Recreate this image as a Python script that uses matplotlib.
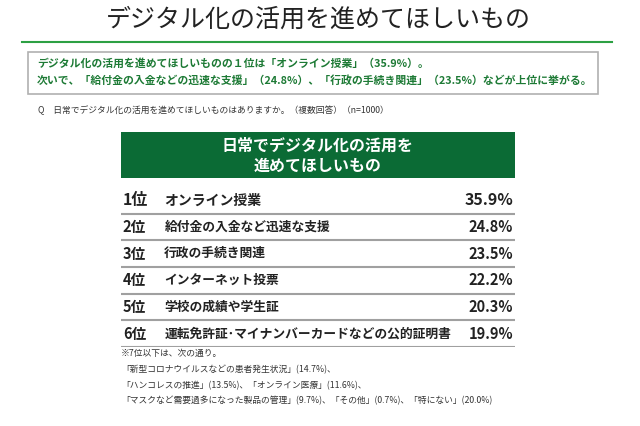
import matplotlib
matplotlib.use("Agg")
import matplotlib.pyplot as plt
from matplotlib.patches import Rectangle

plt.rcParams['font.family'] = ['Noto Sans CJK JP', 'DejaVu Sans']

title = "デジタル化の活用を進めてほしいもの"
summary_lines = ["デジタル化の活用を進めてほしいものの１位は「オンライン授業」（35.9%）。",
                 "次いで、「給付金の入金などの迅速な支援」（24.8%）、「行政の手続き関連」（23.5%）などが上位に挙がる。"]
question = "Q　日常でデジタル化の活用を進めてほしいものはありますか。（複数回答）（n=1000）"
header_lines = ["日常でデジタル化の活用を", "進めてほしいもの"]
ranks = ["1位", "2位", "3位", "4位", "5位", "6位"]
items = ["オンライン授業", "給付金の入金など迅速な支援", "行政の手続き関連",
         "インターネット投票", "学校の成績や学生証", "運転免許証･マイナンバーカードなどの公的証明書"]
values = [35.9, 24.8, 23.5, 22.2, 20.3, 19.9]
notes = ["※7位以下は、次の通り。",
         "「新型コロナウイルスなどの患者発生状況」(14.7%)、",
         "「ハンコレスの推進」(13.5%)、「オンライン医療」(11.6%)、",
         "「マスクなど需要過多になった製品の管理」(9.7%)、「その他」(0.7%)、「特にない」(20.0%)"]

W, H = 640, 426
fig = plt.figure(figsize=(W / 100, H / 100), dpi=100)
fig.patch.set_facecolor("white")

def P(x, y):
    return x / W, 1 - y / H

# Title
fig.text(*P(318, 20), title, ha="center", va="center", fontsize=18, color="#222222")
fig.add_artist(plt.Line2D([22 / W, 612 / W], [1 - 42 / H, 1 - 42 / H], color="#2ca043", lw=1.5))

# Summary box
bx0, by0, bx1, by1 = 28, 52, 598, 94
fig.add_artist(Rectangle(P(bx0, by1), (bx1 - bx0) / W, (by1 - by0) / H,
                         transform=fig.transFigure, facecolor="white", edgecolor="#b0b0b0", lw=1.2))
for i, line in enumerate(summary_lines):
    fig.text(*P(37, 63 + i * 17), line, ha="left", va="center", fontsize=7.8,
             fontweight="bold", color="#1d7a35")

fig.text(*P(38, 110), question, ha="left", va="center", fontsize=6.3, color="#333333")

# Header box
hx0, hy0, hx1, hy1 = 121, 132, 515, 178
fig.add_artist(Rectangle(P(hx0, hy1), (hx1 - hx0) / W, (hy1 - hy0) / H,
                         transform=fig.transFigure, facecolor="#0b6b35", edgecolor="none"))
fig.text(*P(318, 146), header_lines[0], ha="center", va="center", fontsize=11.5,
         fontweight="bold", color="white")
fig.text(*P(318, 166), header_lines[1], ha="center", va="center", fontsize=11.5,
         fontweight="bold", color="white")

# Ranking rows in an axes
ax_top, ax_bot = 187, 347
ax = fig.add_axes([hx0 / W, 1 - ax_bot / H, (hx1 - hx0) / W, (ax_bot - ax_top) / H])
ax.set_xlim(0, 1)
n = len(ranks)
ax.set_ylim(n, 0)
ax.axis("off")
for i, (r, it, v) in enumerate(zip(ranks, items, values)):
    yc = i + 0.5
    big = i == 0
    fs_r = 11.5 if big else 10.5
    fs_i = 10 if big else 9.2
    fs_v = 11.5 if big else 10.5
    ax.text(0.005, yc, r, ha="left", va="center", fontsize=fs_r, fontweight="bold", color="#222222")
    ax.text(0.11, yc, it, ha="left", va="center", fontsize=fs_i, fontweight="bold", color="#222222")
    ax.text(0.995, yc, f"{v:.1f}%", ha="right", va="center", fontsize=fs_v, fontweight="bold",
            color="#222222")
    ax.axhline(i + 1, color="#a0a0a0", lw=1.5)

# Notes
fig.text(*P(121, 353), notes[0], ha="left", va="center", fontsize=6.3, color="#333333")
for i, line in enumerate(notes[1:]):
    fig.text(*P(121, 370 + i * 15.5), line, ha="left", va="center", fontsize=6.3, color="#333333")

fig.savefig("out.png", dpi=100, facecolor="white")
